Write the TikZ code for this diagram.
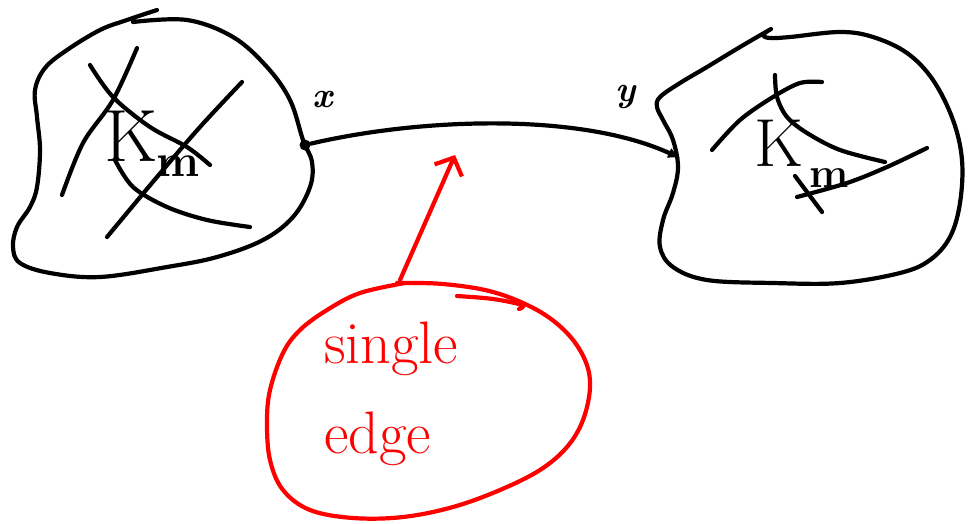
\documentclass[tikz,border=0pt]{standalone}
\usetikzlibrary{arrows.meta}
\begin{document}
\begin{tikzpicture}[x=1pt,y=-1pt,line cap=round,line join=round,
  ink/.style={draw=black,line width=4.2pt},
  rink/.style={draw=red,line width=4.2pt},
  hand/.style={smooth,tension=0.55},
  lbl/.style={inner sep=0pt,text=black},
  rlbl/.style={inner sep=0pt,text=red,align=left}]
\useasboundingbox (0,0) rectangle (969,523);

% left blob
\draw[ink] plot[smooth,tension=0.6] coordinates {(133,22)(187,20)(233,37)(267,67)(290,100)(303,140)(312,162)(310,187)(293,217)(263,240)(217,257)(167,267)(100,277)(50,273)(20,263)(13,247)(17,227)(30,207)(37,187)(40,150)(37,117)(35,90)(45,68)(67,50)(100,30)(127,20)(157,10)};
\draw[ink] plot[hand] coordinates {(137,48)(113,100)(83,143)(62,195)};
\draw[ink] plot[hand] coordinates {(90,65)(113,97)(150,127)(187,147)(210,165)};
\draw[ink] plot[hand] coordinates {(242,82)(200,127)(157,177)(107,237)};
\draw[ink] plot[hand] coordinates {(115,160)(133,187)(167,207)(207,220)(250,227)};
\node[lbl,font=\fontsize{74}{74}\selectfont] (kl) at (131,136) {K};
\node[lbl,font=\fontsize{46}{46}\selectfont\bfseries] (ml) at (178,166) {m};

% right blob
\draw[ink] plot[smooth,tension=0.6] coordinates {(771,29)(763,35)(770,38)(790,37)(840,32)(873,37)(907,53)(933,80)(953,120)(962,160)(960,203)(950,237)(930,260)(900,273)(840,283)(773,283)(707,280)(673,267)(660,247)(663,220)(673,193)(678,167)(673,140)(663,120)(657,107)(660,97)(680,83)(707,67)(740,47)(771,29)};
\draw[ink] plot[hand] coordinates {(712,150)(740,120)(773,97)(800,83)(822,82)};
\draw[ink] plot[hand] coordinates {(775,75)(777,97)(787,117)(807,133)(840,150)(885,162)};
\draw[ink] plot[hand] coordinates {(927,148)(887,167)(847,183)(797,197)};
\draw[ink] (795,176) -- (822,212);
\node[lbl,font=\fontsize{68}{68}\selectfont] (kr) at (779,143) {K};
\node[lbl,font=\fontsize{42}{42}\selectfont\bfseries] (mr) at (829,178) {m};

% edge x -- y
\node[circle,fill=black,inner sep=0pt,minimum size=11pt] (px) at (305,145) {};
\coordinate (py) at (680,158);
\draw[ink,-{Latex[length=12pt,width=11pt]}] (px) .. controls (420,118) and (580,112) .. (py);
\node[lbl,font=\fontsize{36}{36}\selectfont\bfseries\itshape] (lx) at (323,100) {x};
\node[lbl,font=\fontsize{36}{36}\selectfont\bfseries\itshape] (ly) at (626,97) {y};

% red note
\draw[rink] plot[smooth,tension=0.6] coordinates {(397,283)(443,284)(493,292)(537,310)(567,333)(585,360)(590,387)(583,420)(567,447)(540,470)(500,490)(453,507)(403,517)(353,518)(310,510)(283,490)(270,460)(267,423)(270,390)(283,353)(300,330)(327,310)(360,293)(405,283)};
\draw[rink] plot[smooth,tension=0.6] coordinates {(457,296)(493,299)(522,305)(519,309)};
\node[rlbl,anchor=west,font=\fontsize{60}{90}\selectfont] (note) at (324,394) {single\\edge};
\coordinate (ctop) at (400,280);
\coordinate (tip) at (455,155);
\draw[rink,-{Straight Barb[length=14pt,width=30pt]}] (ctop) -- (tip);
\end{tikzpicture}
\end{document}
